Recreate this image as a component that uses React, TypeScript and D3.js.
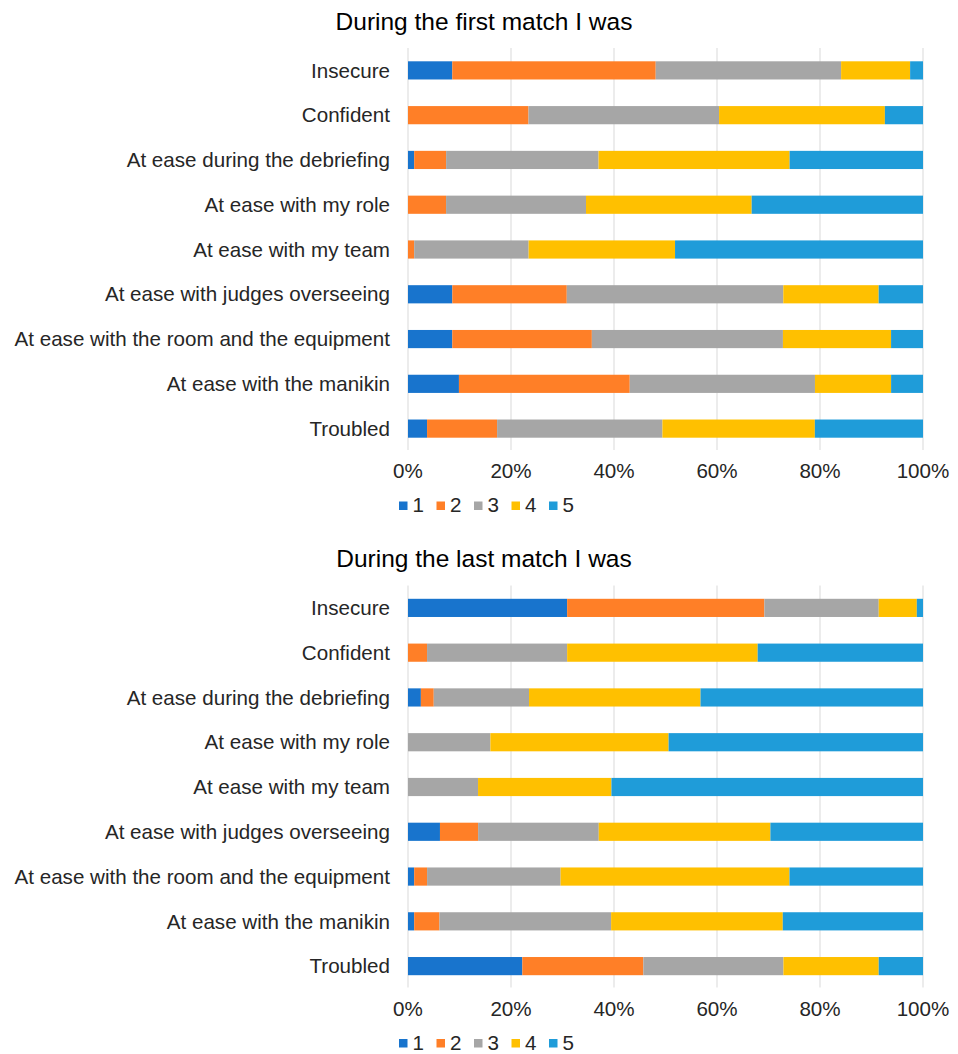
import React from "react";
import * as d3 from "d3";

const categories = [
  "Insecure",
  "Confident",
  "At ease during the debriefing",
  "At ease with my role",
  "At ease with my team",
  "At ease with judges overseeing",
  "At ease with the room and the equipment",
  "At ease with the manikin",
  "Troubled",
];
const levels = ["1", "2", "3", "4", "5"];
const levelColors = ["#1874cd", "#ff7f27", "#a6a6a6", "#ffc000", "#1f9cd9"];
const tickValues = [0, 0.2, 0.4, 0.6, 0.8, 1];

// First match (percent per level, per category)
const first1 = [8.6, 0, 1.2, 0, 0, 8.6, 8.6, 9.9, 3.7];
const first2 = [39.5, 23.4, 6.2, 7.4, 1.2, 22.2, 27.1, 33.2, 13.6];
const first3 = [36.0, 37.0, 29.6, 27.2, 22.2, 42.0, 37.1, 36.0, 32.1];
const first4 = [13.4, 32.2, 37.1, 32.2, 28.4, 18.5, 21.0, 14.8, 29.6];
const first5 = [2.5, 7.4, 25.9, 33.3, 48.1, 8.6, 6.2, 6.2, 21.0];

// Last match
const last1 = [30.9, 0, 2.5, 0, 0, 6.2, 1.2, 1.2, 22.2];
const last2 = [38.3, 3.7, 2.5, 0, 0, 7.4, 2.5, 4.9, 23.5];
const last3 = [22.2, 27.2, 18.5, 16.0, 13.6, 23.4, 25.9, 33.3, 27.2];
const last4 = [7.4, 37.0, 33.3, 34.6, 25.9, 33.3, 44.4, 33.3, 18.5];
const last5 = [1.2, 32.1, 43.2, 49.4, 60.5, 29.6, 25.9, 27.2, 8.6];

const FONT = "'Liberation Sans', Arial, sans-serif";

function buildRows(series: number[][]) {
  return categories.map((c, i) => {
    const row: any = { cat: c };
    levels.forEach((l, j) => (row[l] = series[j][i]));
    return row;
  });
}

function Chart({ title, series, top }: { title: string; series: number[][]; top: number }) {
  const rows = buildRows(series);
  const stack = d3.stack<any>().keys(levels).offset(d3.stackOffsetExpand);
  const stacked = stack(rows);
  const x = d3.scaleLinear().domain([0, 1]).range([408, 923]);
  const y = d3
    .scaleBand()
    .domain(categories)
    .range([top + 48, top + 451])
    .paddingInner(0.594)
    .paddingOuter(0.297);
  const fmt = d3.format(".0%");
  return (
    <g>
      <text x={484} y={top + 21} dy="0.35em" textAnchor="middle" fontSize={24.5} fill="#000" fontFamily={FONT}>
        {title}
      </text>
      {tickValues.map((t) => (
        <line key={t} x1={x(t)} x2={x(t)} y1={top + 48} y2={top + 450} stroke="#d9d9d9" strokeWidth={1} />
      ))}
      {stacked.map((s, si) => (
        <g key={s.key} fill={levelColors[si]}>
          {s.map((d, i) => {
            const w = x(d[1]) - x(d[0]);
            if (w <= 0.01) return null;
            return (
              <rect
                key={i}
                x={x(d[0])}
                y={y(categories[i])!}
                width={w}
                height={y.bandwidth()}
              />
            );
          })}
        </g>
      ))}
      {categories.map((c) => (
        <text
          key={c}
          x={390}
          y={y(c)! + y.bandwidth() / 2}
          dy="0.35em"
          textAnchor="end"
          fontSize={20.6}
          fill="#262626"
          fontFamily={FONT}
        >
          {c}
        </text>
      ))}
      {tickValues.map((t) => (
        <text
          key={"t" + t}
          x={x(t)}
          y={top + 471}
          dy="0.35em"
          textAnchor="middle"
          fontSize={20.6}
          fill="#262626"
          fontFamily={FONT}
        >
          {fmt(t)}
        </text>
      ))}
      {levels.map((l, i) => {
        const lx = 399 + i * 37.5;
        return (
          <g key={"lg" + l}>
            <rect x={lx} y={top + 501.5} width={8.5} height={8.5} fill={levelColors[i]} />
            <text x={lx + 13.5} y={top + 505} dy="0.35em" fontSize={20.6} fill="#262626" fontFamily={FONT}>
              {l}
            </text>
          </g>
        );
      })}
    </g>
  );
}

export default function App() {
  return (
    <svg
      width={958}
      height={1054}
      style={{ position: "absolute", left: 0, top: 0, background: "#fff", display: "block" }}
    >
      <rect width={958} height={1054} fill="#fff" />
      <Chart title="During the first match I was" series={[first1, first2, first3, first4, first5]} top={0} />
      <Chart title="During the last match I was" series={[last1, last2, last3, last4, last5]} top={537.5} />
    </svg>
  );
}
